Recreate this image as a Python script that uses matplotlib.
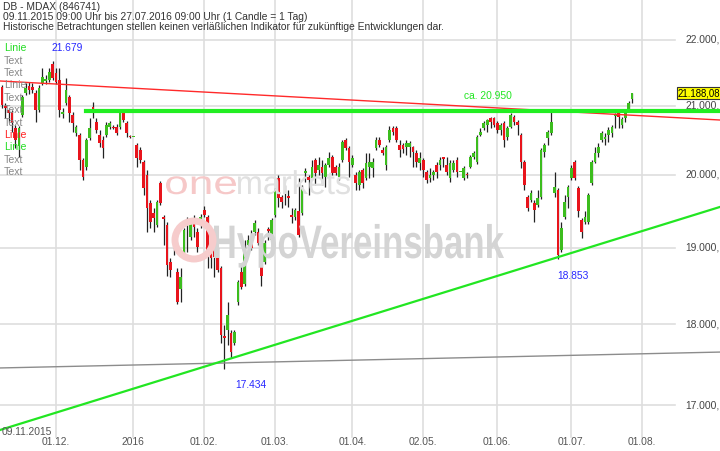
import numpy as np
import pandas as pd
import matplotlib
matplotlib.use('Agg')
import matplotlib.pyplot as plt
from matplotlib.transforms import blended_transform_factory, Affine2D
from matplotlib.textpath import TextPath
from matplotlib.patches import PathPatch, Ellipse
from matplotlib.font_manager import FontProperties

plt.rcParams['font.family'] = ['Liberation Sans', 'DejaVu Sans']

# 1 Candle = 1 Tag (Mo-Fr), 09.11.2015 - 27.07.2016
dates = pd.bdate_range('2015-11-09', '2016-07-27')

opens = [21285, 20999, 20941, 20912, 20680, 20419, 20868, 21194, 21300, 21285,
         21194, 20941, 21345, 21375, 21390, 21631, 21496, 21390, 20883, 21044,
         21134, 20868, 20607, 20578, 20216, 20115, 20535, 20984, 20767, 20578,
         20506, 20578, 20694, 20694, 20694, 20694, 20897, 20752, 20564, 20549,
         20433, 20361, 20187, 19998, 19613, 19476, 19311, 19889, 19421, 19311,
         18812, 18994, 18681, 18446, 18929, 19352, 19146, 19352, 19214, 19311,
         19517, 19421, 19035, 19008, 18942, 18733, 17851, 17926, 17888, 17763,
         18289, 18681, 18511, 19035, 19077, 19214, 19214, 19008, 18812, 19256,
         19104, 19448, 19957, 19696, 19751, 19710, 19448, 19421, 19490, 19476,
         20028, 19971, 19957, 20216, 20071, 20115, 19971, 20144, 20260, 20115,
         19971, 20216, 20506, 20390, 20144, 19998, 19861, 20071, 19957, 20115,
         20100, 20390, 20506, 20361, 20144, 20506, 20680, 20680, 20433, 20433,
         20404, 20404, 20404, 20317, 20173, 20216, 20042, 19957, 19998, 20144,
         20144, 20260, 20144, 19957, 20071, 20216, 20042, 19957, 20013, 20115,
         20260, 20187, 20578, 20680, 20723, 20825, 20825, 20752, 20651, 20752,
         20549, 20694, 20839, 20767, 20578, 20187, 19696, 19655, 19613, 19586,
         19696, 20332, 20535, 20607, 19751, 19792, 18969, 19421, 19696, 19957,
         20187, 19820, 19379, 19352, 19352, 19889, 20187, 20317, 20506, 20520,
         20578, 20607, 20854, 20897, 20723, 20825, 20941, 21104]
highs = [21315, 21044, 20970, 20941, 20723, 20709, 21164, 21345, 21360, 21345,
         21240, 21315, 21571, 21466, 21571, 21679, 21571, 21571, 20970, 21420,
         21164, 20912, 20723, 20607, 20245, 20535, 20825, 21059, 20825, 20651,
         20564, 20767, 20781, 20723, 20738, 20926, 20926, 20781, 20578, 20549,
         20462, 20404, 20216, 20071, 19655, 19545, 19655, 19916, 19448, 19352,
         18864, 19132, 18733, 18733, 19269, 19421, 19407, 19448, 19269, 19462,
         19572, 19448, 19104, 19104, 18994, 18760, 17988, 18289, 17926, 17926,
         18576, 18773, 19104, 19173, 19242, 19379, 19269, 19035, 19104, 19283,
         19407, 19820, 19998, 19724, 19861, 19792, 19545, 19545, 19957, 19861,
         20100, 19998, 20216, 20245, 20260, 20216, 20173, 20332, 20288, 20144,
         20173, 20506, 20535, 20419, 20288, 20042, 20071, 20100, 20317, 20317,
         20245, 20549, 20549, 20404, 20433, 20709, 20709, 20709, 20506, 20462,
         20506, 20491, 20419, 20361, 20332, 20245, 20071, 20100, 20071, 20187,
         20260, 20260, 20260, 20216, 20216, 20260, 20042, 20129, 20042, 20288,
         20346, 20578, 20680, 20781, 20810, 20839, 20839, 20781, 20752, 20781,
         20709, 20897, 20868, 20796, 20607, 20216, 19724, 19792, 19655, 19792,
         20390, 20462, 20651, 20930, 20042, 19820, 19352, 19724, 19861, 20144,
         20216, 19847, 19407, 19490, 19751, 20216, 20404, 20462, 20636, 20607,
         20694, 20723, 20897, 20912, 20839, 20941, 21074, 21194]
lows = [20970, 20825, 20767, 20622, 20390, 20260, 20839, 21164, 21179, 21194,
        20767, 20912, 21315, 21330, 21360, 21390, 21330, 20839, 20825, 21014,
        20767, 20622, 20564, 20071, 19930, 20071, 20506, 20825, 20607, 20404,
        20245, 20549, 20665, 20665, 20578, 20665, 20767, 20549, 20535, 20549,
        20115, 20173, 19724, 19214, 19269, 19214, 19283, 19586, 19035, 18616,
        18603, 18903, 18263, 18289, 18903, 18942, 19104, 19146, 18942, 19269,
        19421, 18733, 18733, 18603, 18681, 17763, 17434, 17738, 17575, 17738,
        18250, 18446, 18485, 19008, 18969, 19173, 19035, 18485, 18786, 19104,
        19035, 19421, 19558, 19545, 19586, 19558, 19338, 19379, 19146, 19448,
        19902, 19724, 19930, 19861, 19998, 19861, 19834, 20115, 19998, 19998,
        19930, 20187, 20361, 19971, 20115, 19792, 19792, 19820, 19930, 19957,
        19971, 20361, 20404, 20288, 20071, 20477, 20578, 20477, 20260, 20317,
        20288, 20260, 20115, 20115, 20071, 19971, 19889, 19902, 19930, 19957,
        20071, 20115, 19998, 19902, 20042, 19971, 20042, 19930, 19957, 20100,
        20231, 20158, 20564, 20651, 20622, 20680, 20694, 20607, 20578, 20404,
        20506, 20680, 20723, 20578, 20100, 19792, 19490, 19627, 19352, 19558,
        19669, 20260, 20433, 20578, 19696, 18853, 18942, 19393, 19545, 19930,
        19930, 19421, 19132, 19324, 19324, 19861, 20173, 20260, 20477, 20433,
        20477, 20549, 20680, 20680, 20680, 20767, 20912, 21044]
closes = [21014, 20970, 20897, 20752, 20506, 20680, 21134, 21270, 21240, 21240,
          20941, 21270, 21435, 21405, 21511, 21420, 21360, 20941, 20912, 21240,
          20897, 20752, 20694, 20216, 19971, 20506, 20680, 20941, 20651, 20462,
          20390, 20723, 20752, 20680, 20607, 20897, 20796, 20607, 20549, 20549,
          20245, 20216, 19820, 19545, 19352, 19407, 19627, 19613, 19393, 18773,
          18707, 19022, 18289, 18603, 19242, 19311, 19352, 19283, 19008, 19421,
          19448, 18942, 18864, 18877, 18707, 17863, 17826, 18119, 17651, 17901,
          18537, 18472, 18994, 19104, 18994, 19338, 19063, 18616, 19063, 19228,
          19379, 19792, 19682, 19627, 19779, 19682, 19421, 19517, 19173, 19834,
          20057, 19930, 20115, 20028, 20144, 20028, 20144, 20245, 20028, 20028,
          20115, 20477, 20390, 20187, 20245, 19889, 20042, 19889, 20173, 20187,
          20187, 20506, 20433, 20317, 20404, 20651, 20622, 20506, 20361, 20375,
          20462, 20462, 20332, 20187, 20245, 20071, 19930, 19998, 20042, 20042,
          20216, 20231, 20042, 20173, 20173, 20042, 20042, 20100, 19998, 20260,
          20317, 20549, 20622, 20752, 20796, 20767, 20723, 20651, 20723, 20506,
          20680, 20868, 20767, 20723, 20187, 19861, 19545, 19751, 19517, 19682,
          20361, 20433, 20622, 20767, 19834, 18903, 19269, 19627, 19834, 20100,
          19957, 19490, 19214, 19421, 19724, 20187, 20317, 20404, 20607, 20549,
          20651, 20694, 20883, 20839, 20810, 20897, 21044, 21188.08]

y_levels = [22000, 21000, 20000, 19000, 18000, 17000]
y_labels = ['22.000,', '21.000,', '20.000,', '19.000,', '18.000,', '17.000,']

tick_dates = ['2015-12-01', '2016-01-01', '2016-02-01', '2016-03-01', '2016-04-01',
              '2016-05-02', '2016-06-01', '2016-07-01', '2016-08-01']
tick_labels = ['01.12.', '2016', '01.02.', '01.03.', '01.04.', '02.05.', '01.06.', '01.07.', '01.08.']

# analyst lines: (candle index, price) at both ends
red_line = ([-0.6, 213.1], [21372, 20791])
green_trend = ([-0.6, 213.1], [16703, 19553])
gray_line = ([-0.6, 213.1], [17451, 17648])
resistance = 20930
resistance_start = 25

W, H = 720, 451
fig = plt.figure(figsize=(W / 100, H / 100), dpi=100)
ax = fig.add_axes([0, 0, 1, 1])
ax.set_yscale('log')
ax.set_xlim(-0.6, 213.1)
ax.set_ylim(16457, 22630)
ax.axis('off')


def fx(x):
    return x / W


def fy(y):
    return 1 - y / H


# watermark
def word(s, x0, y_base, width, height, color, weight='normal'):
    fp = FontProperties(family='Liberation Sans', weight=weight)
    tp = TextPath((0, 0), s, size=1, prop=fp)
    ext = tp.get_extents()
    sx = width / ext.width
    tr = Affine2D().translate(-ext.x0, 0).scale(sx / W, height / H).translate(fx(x0), fy(y_base))
    fig.patches.append(PathPatch(tr.transform_path(tp), transform=fig.transFigure,
                                 facecolor=color, edgecolor='none', zorder=0))


word('one', 166, 194, 70, 33, '#f6c8c8')
word('markets', 238, 194, 112, 33, '#e0e0e0')
word('HypoVereinsbank', 214, 258, 290, 47, '#d4d4d4', weight='bold')
fig.patches.append(Ellipse((fx(194), fy(240)), 38 / W, 38 / H, transform=fig.transFigure,
                           facecolor='none', edgecolor='#f6cccc', lw=5, zorder=0))

# grid
for v in y_levels:
    ax.axhline(v, xmin=0, xmax=675 / W, color='#dedede', lw=1.2, zorder=1)
all_days = pd.bdate_range('2015-11-09', '2016-08-31')
tick_pos = [all_days.get_loc(pd.Timestamp(d)) for d in tick_dates]
for p in tick_pos:
    ax.axvline(p, ymin=fy(437), ymax=1, color='#dedede', lw=1.2, zorder=1)

# candles
x = np.arange(len(dates))
o = np.array(opens, float)
c = np.array(closes, float)
hi = np.array(highs, float)
lo = np.array(lows, float)
up = c >= o
ax.vlines(x, lo, hi, color='#222222', lw=0.9, zorder=2)
body_low = np.minimum(o, c)
body_h = np.maximum(np.abs(c - o), 14)
ax.bar(x, body_h, bottom=body_low, width=0.8,
       color=np.where(up, '#3cbd1e', '#e8141c'), zorder=3)

# lines
ax.plot(*gray_line, color='#8c8c8c', lw=1.0, zorder=4)
ax.plot(*red_line, color='#ff2a2a', lw=1.0, zorder=4)
ax.plot(*green_trend, color='#22e622', lw=1.6, zorder=4)
ax.plot([resistance_start, 213.1], [resistance, resistance], color='#22ee22', lw=3.0, zorder=4)

# texts
fs = 7.4
fig.text(fx(3), fy(7), 'DB - MDAX (846741)', fontsize=fs, color='#333333', va='center')
fig.text(fx(3), fy(17.5), '09.11.2015 09:00 Uhr bis 27.07.2016 09:00 Uhr (1 Candle = 1 Tag)',
         fontsize=fs, color='#333333', va='center')
fig.text(fx(3), fy(27.5), 'Historische Betrachtungen stellen keinen verläßlichen Indikator '
         'für zukünftige Entwicklungen dar.', fontsize=fs, color='#333333', va='center')

legend_items = [('Linie', '#22dd22'), ('Text', '#888888'), ('Text', '#888888'),
                ('Linie', '#888888'), ('Text', '#888888'), ('Text', '#888888'),
                ('Text', '#888888'), ('Linie', '#ff2020'), ('Linie', '#22dd22'),
                ('Text', '#888888'), ('Text', '#888888')]
for k, (s, col) in enumerate(legend_items):
    fig.text(fx(4), fy(48.3 + 12.4 * k), s, fontsize=7.6, color=col, va='center', zorder=6)

fig.text(fx(52), fy(48), '21.679', fontsize=fs, color='#2828ff', va='center')
fig.text(fx(464), fy(96), 'ca. 20.950', fontsize=fs, color='#22e622', va='center')
fig.text(fx(557), fy(276), '18.853', fontsize=fs, color='#2828ff', va='center')
fig.text(fx(235), fy(385), '17.434', fontsize=fs, color='#2828ff', va='center')

ytr = blended_transform_factory(fig.transFigure, ax.transData)
for v, s in zip(y_levels, y_labels):
    ax.text(fx(685), v, s, transform=ytr, fontsize=fs, color='#444444', va='center')
ax.text(fx(678), closes[-1], '21.188,08', transform=ytr, fontsize=6.9, color='black',
        va='center', zorder=7,
        bbox=dict(boxstyle='square,pad=0.12', facecolor='#ffff00', edgecolor='#333333', lw=0.8))

xtr = blended_transform_factory(ax.transData, fig.transFigure)
for p, s in zip(tick_pos, tick_labels):
    ax.text(p, fy(442), s, transform=xtr, fontsize=fs, color='#555555', ha='center', va='center')
fig.text(fx(2), fy(432), '09.11.2015', fontsize=fs, color='#555555', va='center')

fig.savefig('out.png', dpi=100)
